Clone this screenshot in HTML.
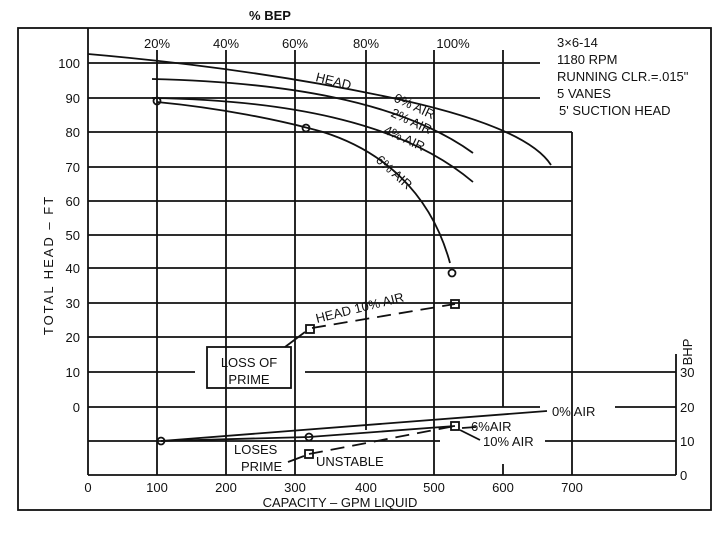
<!DOCTYPE html>
<html><head><meta charset="utf-8"><style>
html,body{margin:0;padding:0;background:#fff}
svg{display:block}
text{font-family:"Liberation Sans Narrow","Liberation Sans",sans-serif;fill:#111;font-size:13px}
</style></head><body>
<svg width="720" height="534" viewBox="0 0 720 534" xmlns="http://www.w3.org/2000/svg">
<g stroke="#111" stroke-width="1.8" fill="none">
<rect x="18" y="28" width="693" height="482"/>
<line x1="88" y1="28" x2="88" y2="475"/>
<line x1="88" y1="475" x2="676" y2="475"/>
<line x1="676" y1="354" x2="676" y2="475"/>
<line x1="157" y1="50" x2="157" y2="475"/>
<line x1="226" y1="50" x2="226" y2="475"/>
<line x1="295" y1="50" x2="295" y2="475"/>
<line x1="366" y1="50" x2="366" y2="430"/>
<line x1="434" y1="50" x2="434" y2="475"/>
<line x1="503" y1="50" x2="503" y2="407"/>
<line x1="503" y1="464" x2="503" y2="475"/>
<line x1="572" y1="132" x2="572" y2="475"/>
<line x1="88" y1="63" x2="540" y2="63"/>
<line x1="88" y1="98" x2="540" y2="98"/>
<line x1="88" y1="132" x2="572" y2="132"/>
<line x1="88" y1="167" x2="572" y2="167"/>
<line x1="88" y1="201" x2="572" y2="201"/>
<line x1="88" y1="235" x2="572" y2="235"/>
<line x1="88" y1="268" x2="572" y2="268"/>
<line x1="88" y1="303" x2="572" y2="303"/>
<line x1="88" y1="337" x2="572" y2="337"/>
<line x1="88" y1="372" x2="195" y2="372"/>
<line x1="305" y1="372" x2="676" y2="372"/>
<line x1="88" y1="407" x2="540" y2="407"/>
<line x1="615" y1="407" x2="676" y2="407"/>
<line x1="88" y1="441" x2="440" y2="441"/>
<line x1="545" y1="441" x2="676" y2="441"/>
<rect x="207" y="347" width="84" height="41"/>
<path d="M88,54 Q250,68 388,97 T551,165"/>
<path d="M152,79 C280,82 400,100 473,153"/>
<path d="M152,98 C280,100 400,120 473,182"/>
<path d="M157,102 C220,108 280,120 323,132 C380,150 430,190 450,263"/>
<circle cx="157" cy="101" r="3.5"/>
<circle cx="306" cy="128" r="3.5"/>
<circle cx="452" cy="273" r="3.5"/>
<path d="M312,328 L455,304" stroke-dasharray="14,8"/>
<rect x="306" y="325" width="8" height="8"/>
<rect x="451" y="300" width="8" height="8"/>
<line x1="285" y1="347" x2="305" y2="332"/>
<circle cx="161" cy="441" r="3.5"/>
<path d="M161,441 L547,411"/>
<path d="M161,441 L309,437 L455,426"/>
<path d="M309,454 L455,426" stroke-dasharray="14,8"/>
<circle cx="309" cy="437" r="3.5"/>
<rect x="305" y="450" width="8" height="8"/>
<rect x="451" y="422" width="8" height="8"/>
<line x1="462" y1="428" x2="476" y2="427"/>
<line x1="460" y1="430" x2="480" y2="440"/>
<line x1="288" y1="462" x2="304" y2="456"/>
</g>
<text x="270" y="20" text-anchor="middle" font-weight="bold">% BEP</text>
<g text-anchor="middle">
<text x="157" y="48">20%</text><text x="226" y="48">40%</text><text x="295" y="48">60%</text>
<text x="366" y="48">80%</text><text x="453" y="48">100%</text>
</g>
<g text-anchor="end">
<text x="80" y="68">100</text><text x="80" y="103">90</text><text x="80" y="137">80</text>
<text x="80" y="172">70</text><text x="80" y="206">60</text><text x="80" y="240">50</text>
<text x="80" y="273">40</text><text x="80" y="308">30</text><text x="80" y="342">20</text>
<text x="80" y="377">10</text><text x="80" y="412">0</text>
</g>
<g>
<text x="680" y="377">30</text><text x="680" y="412">20</text><text x="680" y="446">10</text><text x="680" y="480">0</text>
</g>
<g text-anchor="middle">
<text x="88" y="492">0</text><text x="157" y="492">100</text><text x="226" y="492">200</text>
<text x="295" y="492">300</text><text x="366" y="492">400</text><text x="434" y="492">500</text>
<text x="503" y="492">600</text><text x="572" y="492">700</text>
<text x="340" y="507">CAPACITY – GPM LIQUID</text>
</g>
<text transform="translate(53,265) rotate(-90)" text-anchor="middle" letter-spacing="2">TOTAL HEAD – FT</text>
<text transform="translate(692,352) rotate(-90)" text-anchor="middle">BHP</text>
<g>
<text x="557" y="47">3×6-14</text>
<text x="557" y="64">1180 RPM</text>
<text x="557" y="81">RUNNING CLR.=.015"</text>
<text x="557" y="98">5 VANES</text>
<text x="559" y="115">5' SUCTION HEAD</text>
</g>
<text transform="translate(315,81) rotate(14)">HEAD</text>
<text transform="translate(393,101) rotate(25)">0% AIR</text>
<text transform="translate(390,116) rotate(25)">2% AIR</text>
<text transform="translate(383,133) rotate(25)">4% AIR</text>
<text transform="translate(375,161) rotate(42)">6% AIR</text>
<text transform="translate(317,323) rotate(-14)">HEAD 10% AIR</text>
<text x="249" y="367" text-anchor="middle">LOSS OF</text>
<text x="249" y="384" text-anchor="middle">PRIME</text>
<text x="552" y="416">0% AIR</text>
<text x="471" y="431">6%AIR</text>
<text x="483" y="446">10% AIR</text>
<text x="234" y="454">LOSES</text>
<text x="241" y="471">PRIME</text>
<text x="316" y="466">UNSTABLE</text>
</svg>
</body></html>
